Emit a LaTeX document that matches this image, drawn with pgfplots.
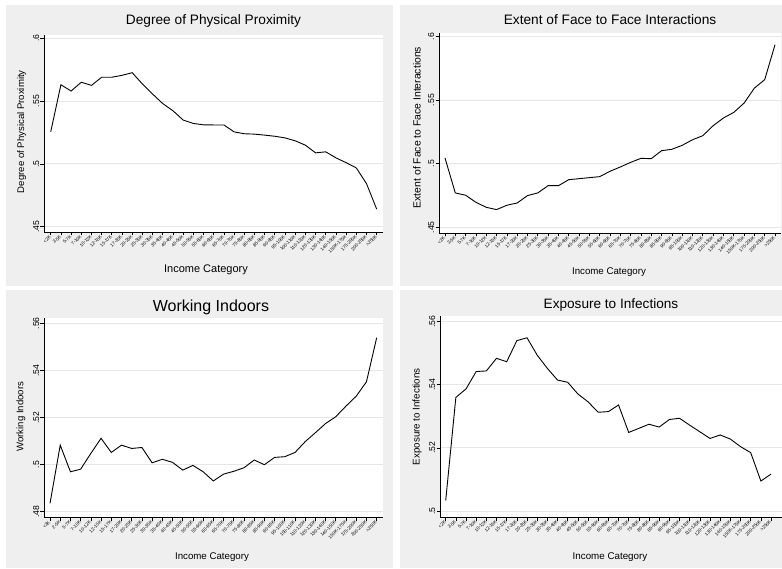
\documentclass[border=0pt]{standalone}
\usepackage{pgfplots}
\usepackage{pgfplotstable}
\pgfplotsset{compat=1.18}
\usepackage{fontspec}
\setmainfont{Liberation Sans}

\definecolor{panel}{RGB}{239,239,239}
\definecolor{gridc}{RGB}{230,230,230}

% mean scores by income category
\pgfplotstableread{
x  tl     tr     bl     br
0  0.5255 0.5045 0.4836 0.5033
1  0.5630 0.4770 0.5083 0.5360
2  0.5580 0.4752 0.4970 0.5387
3  0.5650 0.4696 0.4981 0.5442
4  0.5625 0.4657 0.5048 0.5444
5  0.5690 0.4639 0.5112 0.5484
6  0.5690 0.4673 0.5052 0.5473
7  0.5705 0.4691 0.5083 0.5540
8  0.5726 0.4749 0.5069 0.5549
9  0.5636 0.4770 0.5073 0.5494
10 0.5556 0.4827 0.5008 0.5452
11 0.5480 0.4827 0.5023 0.5415
12 0.5423 0.4874 0.5010 0.5408
13 0.5349 0.4882 0.4977 0.5371
14 0.5322 0.4890 0.4997 0.5346
15 0.5311 0.4898 0.4970 0.5313
16 0.5310 0.4940 0.4931 0.5315
17 0.5310 0.4974 0.4960 0.5336
18 0.5255 0.5010 0.4972 0.5249
19 0.5240 0.5042 0.4987 0.5262
20 0.5237 0.5039 0.5020 0.5275
21 0.5229 0.5102 0.5000 0.5266
22 0.5220 0.5113 0.5031 0.5290
23 0.5207 0.5144 0.5034 0.5294
24 0.5184 0.5188 0.5052 0.5272
25 0.5149 0.5220 0.5098 0.5251
26 0.5088 0.5298 0.5136 0.5230
27 0.5096 0.5359 0.5175 0.5241
28 0.5048 0.5403 0.5204 0.5228
29 0.5010 0.5476 0.5249 0.5204
30 0.4968 0.5594 0.5291 0.5185
31 0.4843 0.5660 0.5352 0.5095
32 0.4640 0.5935 0.5539 0.5117
}\datatable

\pgfplotsset{
  stpanel/.style={
    scale only axis, anchor=south west,
    axis x line*=bottom, axis y line*=left,
    axis line style={black, line width=0.8pt, -},
    axis background/.style={fill=white},
    tick align=outside, major tick length=3.5pt,
    every tick/.style={black, line width=0.7pt},
    ymajorgrids, grid style={gridc, line width=0.9pt},
    xtick={0,...,32},
    xticklabels={<2K,2-5K,5-7K,7-10K,10-12K,12-15K,15-17K,17-20K,20-25K,25-30K,30-35K,35-40K,40-45K,45-50K,50-55K,55-60K,60-65K,65-70K,70-75K,75-80K,80-85K,85-90K,90-95K,95-100K,100-110K,110-120K,120-130K,130-140K,140-150K,150K-175K,175-200K,200-250K,>250K},
    xticklabel style={rotate=45, anchor=east, font=\fontsize{4.6}{5}\selectfont, inner sep=0.5pt},
    yticklabel style={rotate=90, anchor=south, font=\fontsize{8.6}{9}\selectfont, inner sep=1pt},
    /pgf/number format/assume math mode=true,
  },
  stline/.style={black, line width=0.9pt, no marks},
}

\begin{document}
\begin{tikzpicture}
\path[use as bounding box] (0pt,0pt) rectangle (782pt,568pt);
\fill[white] (0pt,0pt) rectangle (782pt,568pt);
\fill[panel] (6pt,282pt) rectangle (393pt,563pt);
\fill[panel] (400pt,282pt) rectangle (782pt,563pt);
\fill[panel] (6pt,0pt) rectangle (393pt,278pt);
\fill[panel] (400pt,0pt) rectangle (782pt,278pt);

% top left
\begin{axis}[stpanel, at={(44pt,336pt)}, width=339pt, height=197pt,
  xmin=-0.66, xmax=32.62, ymin=0.4458, ymax=0.6026,
  ytick={0.45,0.5,0.55,0.6}, yticklabels={.45,.5,.55,.6}]
\addplot[stline] table[x=x, y=tl] {\datatable};
\end{axis}

% top right
\begin{axis}[stpanel, at={(439pt,335pt)}, width=342pt, height=200pt,
  xmin=-0.58, xmax=32.58, ymin=0.4455, ymax=0.6027,
  ytick={0.45,0.5,0.55,0.6}, yticklabels={.45,.5,.55,.6}]
\addplot[stline] table[x=x, y=tr] {\datatable};
\end{axis}

% bottom left
\begin{axis}[stpanel, at={(44pt,50.3pt)}, width=339pt, height=200pt,
  xmin=-0.59, xmax=32.62, ymin=0.4775, ymax=0.5624,
  ytick={0.48,0.5,0.52,0.54,0.56}, yticklabels={.48,.5,.52,.54,.56}]
\addplot[stline] table[x=x, y=bl] {\datatable};
\end{axis}

% bottom right
\begin{axis}[stpanel, at={(440pt,51pt)}, width=341.7pt, height=201.3pt,
  xmin=-0.56, xmax=33.05, ymin=0.4981, ymax=0.5619,
  ytick={0.5,0.52,0.54,0.56}, yticklabels={.5,.52,.54,.56}]
\addplot[stline] table[x=x, y=br] {\datatable};
\end{axis}

% titles
\node[anchor=base, font=\fontsize{13.7}{15}\selectfont] at (213.5pt,543pt) {Degree of Physical Proximity};
\node[anchor=base, font=\fontsize{13.7}{15}\selectfont] at (610pt,543pt) {Extent of Face to Face Interactions};
\node[anchor=base, font=\fontsize{16}{18}\selectfont] at (211pt,256.5pt) {Working Indoors};
\node[anchor=base, font=\fontsize{13.6}{15}\selectfont] at (611pt,259.5pt) {Exposure to Infections};

% x labels
\node[anchor=base, font=\fontsize{11}{12}\selectfont] at (206pt,295.5pt) {Income Category};
\node[anchor=base, font=\fontsize{9.7}{11}\selectfont] at (609pt,293pt) {Income Category};
\node[anchor=base, font=\fontsize{9.7}{11}\selectfont] at (212pt,9pt) {Income Category};
\node[anchor=base, font=\fontsize{9.8}{11}\selectfont] at (610pt,9pt) {Income Category};

% y labels
\node[rotate=90, font=\fontsize{9.6}{11}\selectfont] at (21.7pt,436.3pt) {Degree of Physical Proximity};
\node[rotate=90, font=\fontsize{10.4}{12}\selectfont] at (417pt,440.5pt) {Extent of Face to Face Interactions};
\node[rotate=90, font=\fontsize{9.6}{11}\selectfont] at (21pt,151.3pt) {Working Indoors};
\node[rotate=90, font=\fontsize{9.8}{11}\selectfont] at (417pt,151.3pt) {Exposure to Infections};
\end{tikzpicture}
\end{document}
